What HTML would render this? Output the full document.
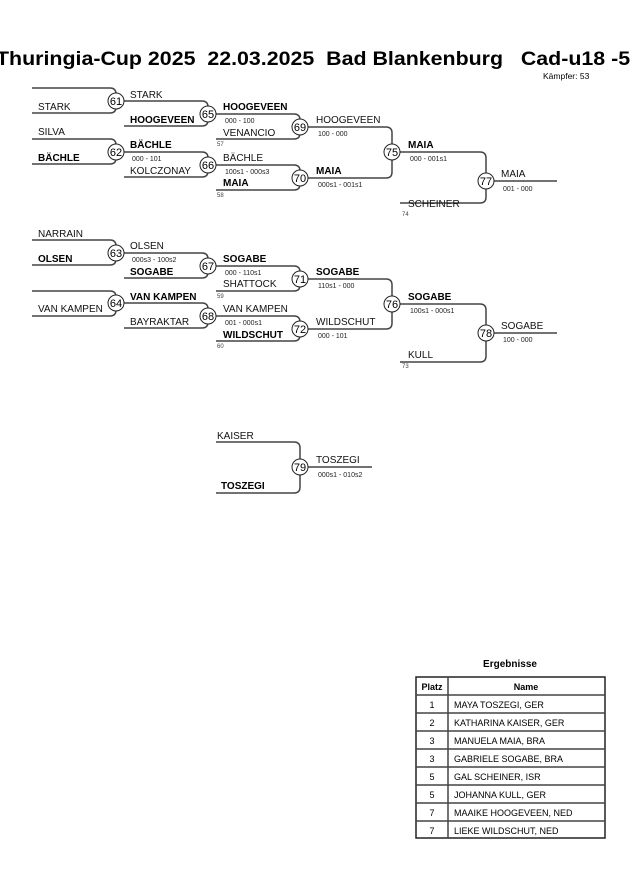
<!DOCTYPE html>
<html><head><meta charset="utf-8"><style>
body{margin:0;background:#fff;}
svg{display:block;font-family:"Liberation Sans",Arial,sans-serif;}
.n{font-size:10px;fill:#111;}
.b{font-size:10px;font-weight:bold;fill:#000;}
.s{font-size:7px;fill:#222;}
.t{font-size:6px;fill:#444;}
.c{font-size:11px;fill:#000;text-anchor:middle;}
path,line{stroke:#444;stroke-width:1.5;fill:none;}
circle{stroke:#222;stroke-width:1;fill:#fff;}
</style></head><body>
<svg width="630" height="891" viewBox="0 0 630 891">
<text x="-4" y="65" font-size="19" font-weight="bold" style="white-space:pre" xml:space="preserve" textLength="646" lengthAdjust="spacingAndGlyphs">Thuringia-Cup 2025  22.03.2025  Bad Blankenburg   Cad-u18 -57</text>
<text x="543" y="79" font-size="8.5">Kämpfer: 53</text>

<path d="M32 88 H110 Q116 88 116 94 V107 Q116 113 110 113 H32"/>
<path d="M32 139 H110 Q116 139 116 145 V158 Q116 164 110 164 H32"/>
<path d="M32 240 H110 Q116 240 116 246 V259 Q116 265 110 265 H32"/>
<path d="M32 291 H110 Q116 291 116 297 V310 Q116 316 110 316 H32"/>
<path d="M124 101 H202 Q208 101 208 107 V120 Q208 126 202 126 H124"/>
<path d="M124 152 H202 Q208 152 208 158 V171 Q208 177 202 177 H124"/>
<path d="M124 253 H202 Q208 253 208 259 V272 Q208 278 202 278 H124"/>
<path d="M124 303 H202 Q208 303 208 309 V322 Q208 328 202 328 H124"/>
<path d="M216 114 H294 Q300 114 300 120 V133 Q300 139 294 139 H216"/>
<path d="M216 165 H294 Q300 165 300 171 V184 Q300 190 294 190 H216"/>
<path d="M216 266 H294 Q300 266 300 272 V285 Q300 291 294 291 H216"/>
<path d="M216 316 H294 Q300 316 300 322 V335 Q300 341 294 341 H216"/>
<path d="M216 442 H294 Q300 442 300 448 V487 Q300 493 294 493 H216"/>
<path d="M308 127 H386 Q392 127 392 133 V172 Q392 178 386 178 H308"/>
<path d="M308 279 H386 Q392 279 392 285 V323 Q392 329 386 329 H308"/>
<path d="M400 152 H480 Q486 152 486 158 V197 Q486 203 480 203 H400"/>
<path d="M400 304 H480 Q486 304 486 310 V356 Q486 362 480 362 H400"/>
<line x1="494" y1="181" x2="557" y2="181"/>
<line x1="494" y1="333" x2="557" y2="333"/>
<line x1="308" y1="467" x2="372" y2="467"/>

<g>
<circle cx="116" cy="101" r="8"/><text class="c" x="116" y="105">61</text>
<circle cx="116" cy="152" r="8"/><text class="c" x="116" y="156">62</text>
<circle cx="116" cy="253" r="8"/><text class="c" x="116" y="257">63</text>
<circle cx="116" cy="303" r="8"/><text class="c" x="116" y="307">64</text>
<circle cx="208" cy="114" r="8"/><text class="c" x="208" y="118">65</text>
<circle cx="208" cy="165" r="8"/><text class="c" x="208" y="169">66</text>
<circle cx="208" cy="266" r="8"/><text class="c" x="208" y="270">67</text>
<circle cx="208" cy="316" r="8"/><text class="c" x="208" y="320">68</text>
<circle cx="300" cy="127" r="8"/><text class="c" x="300" y="131">69</text>
<circle cx="300" cy="178" r="8"/><text class="c" x="300" y="182">70</text>
<circle cx="300" cy="279" r="8"/><text class="c" x="300" y="283">71</text>
<circle cx="300" cy="329" r="8"/><text class="c" x="300" y="333">72</text>
<circle cx="300" cy="467" r="8"/><text class="c" x="300" y="471">79</text>
<circle cx="392" cy="152" r="8"/><text class="c" x="392" y="156">75</text>
<circle cx="392" cy="304" r="8"/><text class="c" x="392" y="308">76</text>
<circle cx="486" cy="181" r="8"/><text class="c" x="486" y="185">77</text>
<circle cx="486" cy="333" r="8"/><text class="c" x="486" y="337">78</text>
</g>

<text class="n" x="38" y="110">STARK</text>
<text class="n" x="38" y="135">SILVA</text>
<text class="b" x="38" y="161">BÄCHLE</text>
<text class="n" x="38" y="237">NARRAIN</text>
<text class="b" x="38" y="262">OLSEN</text>
<text class="n" x="38" y="312">VAN KAMPEN</text>
<text class="n" x="130" y="98">STARK</text>
<text class="b" x="130" y="123">HOOGEVEEN</text>
<text class="b" x="130" y="148">BÄCHLE</text>
<text class="s" x="132" y="161">000 - 101</text>
<text class="n" x="130" y="174">KOLCZONAY</text>
<text class="n" x="130" y="249">OLSEN</text>
<text class="s" x="132" y="262">000s3 - 100s2</text>
<text class="b" x="130" y="275">SOGABE</text>
<text class="b" x="130" y="300">VAN KAMPEN</text>
<text class="n" x="130" y="325">BAYRAKTAR</text>
<text class="b" x="223" y="110">HOOGEVEEN</text>
<text class="s" x="225" y="123">000 - 100</text>
<text class="n" x="223" y="136">VENANCIO</text>
<text class="t" x="217" y="146">57</text>
<text class="n" x="223" y="161">BÄCHLE</text>
<text class="s" x="225" y="174">100s1 - 000s3</text>
<text class="b" x="223" y="186">MAIA</text>
<text class="t" x="217" y="197">58</text>
<text class="b" x="223" y="262">SOGABE</text>
<text class="s" x="225" y="275">000 - 110s1</text>
<text class="n" x="223" y="287">SHATTOCK</text>
<text class="t" x="217" y="298">59</text>
<text class="n" x="223" y="312">VAN KAMPEN</text>
<text class="s" x="225" y="325">001 - 000s1</text>
<text class="b" x="223" y="338">WILDSCHUT</text>
<text class="t" x="217" y="348">60</text>
<text class="n" x="217" y="439">KAISER</text>
<text class="b" x="221" y="489">TOSZEGI</text>
<text class="n" x="316" y="123">HOOGEVEEN</text>
<text class="s" x="318" y="136">100 - 000</text>
<text class="b" x="316" y="174">MAIA</text>
<text class="s" x="318" y="187">000s1 - 001s1</text>
<text class="b" x="316" y="275">SOGABE</text>
<text class="s" x="318" y="288">110s1 - 000</text>
<text class="n" x="316" y="325">WILDSCHUT</text>
<text class="s" x="318" y="338">000 - 101</text>
<text class="n" x="316" y="463">TOSZEGI</text>
<text class="s" x="318" y="477">000s1 - 010s2</text>
<text class="b" x="408" y="148">MAIA</text>
<text class="s" x="410" y="161">000 - 001s1</text>
<text class="n" x="408" y="207">SCHEINER</text>
<text class="t" x="402" y="216">74</text>
<text class="b" x="408" y="300">SOGABE</text>
<text class="s" x="410" y="313">100s1 - 000s1</text>
<text class="n" x="408" y="358">KULL</text>
<text class="t" x="402" y="368">73</text>
<text class="n" x="501" y="177">MAIA</text>
<text class="s" x="503" y="191">001 - 000</text>
<text class="n" x="501" y="329">SOGABE</text>
<text class="s" x="503" y="342">100 - 000</text>

<text x="510" y="667" font-size="10" font-weight="bold" text-anchor="middle">Ergebnisse</text>
<rect x="416" y="677" width="189" height="161" fill="none" stroke="#222" stroke-width="1.5"/>
<g style="stroke:#222;stroke-width:1">
<line x1="448" y1="677" x2="448" y2="838"/>
<line x1="416" y1="695" x2="605" y2="695"/>
<line x1="416" y1="713" x2="605" y2="713"/>
<line x1="416" y1="731" x2="605" y2="731"/>
<line x1="416" y1="749" x2="605" y2="749"/>
<line x1="416" y1="767" x2="605" y2="767"/>
<line x1="416" y1="785" x2="605" y2="785"/>
<line x1="416" y1="803" x2="605" y2="803"/>
<line x1="416" y1="821" x2="605" y2="821"/>
</g>
<g font-size="9">
<text x="432" y="690" font-weight="bold" text-anchor="middle">Platz</text>
<text x="526" y="690" font-weight="bold" text-anchor="middle">Name</text>
<text x="432" y="708" text-anchor="middle">1</text><text x="454" y="708">MAYA TOSZEGI, GER</text>
<text x="432" y="726" text-anchor="middle">2</text><text x="454" y="726">KATHARINA KAISER, GER</text>
<text x="432" y="744" text-anchor="middle">3</text><text x="454" y="744">MANUELA MAIA, BRA</text>
<text x="432" y="762" text-anchor="middle">3</text><text x="454" y="762">GABRIELE SOGABE, BRA</text>
<text x="432" y="780" text-anchor="middle">5</text><text x="454" y="780">GAL SCHEINER, ISR</text>
<text x="432" y="798" text-anchor="middle">5</text><text x="454" y="798">JOHANNA KULL, GER</text>
<text x="432" y="816" text-anchor="middle">7</text><text x="454" y="816">MAAIKE HOOGEVEEN, NED</text>
<text x="432" y="834" text-anchor="middle">7</text><text x="454" y="834">LIEKE WILDSCHUT, NED</text>
</g>
</svg>
</body></html>
